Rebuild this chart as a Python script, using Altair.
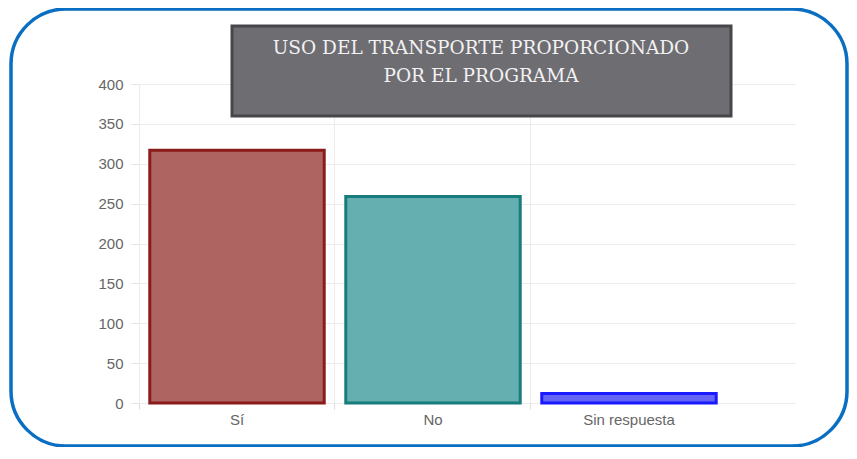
import altair as alt
import pandas as pd

categories = ["Sí", "No", "Sin respuesta"]
values = [317, 259, 12]
fill_colors = ["#ae6461", "#66afb0", "#6464f6"]
stroke_colors = ["#8b1a1a", "#167c7c", "#1a1aff"]
y_ticks = [0, 50, 100, 150, 200, 250, 300, 350, 400]
title_lines = ["USO DEL TRANSPORTE PROPORCIONADO", "POR EL PROGRAMA"]

df = pd.DataFrame({"cat": categories, "val": values})
one = pd.DataFrame({"a": [0]})

x_enc = alt.X(
    "cat:N",
    sort=categories,
    title=None,
    scale=alt.Scale(paddingInner=0, paddingOuter=0.1735, align=0),
    axis=alt.Axis(
        bandPosition=0, grid=True, gridColor="#ececec", domain=False,
        tickColor="#dcdcdc", tickSize=6, labelAngle=0, labelPadding=3,
        labelFont="Liberation Sans", labelFontSize=15, labelColor="#666666",
    ),
)
y_enc = alt.Y(
    "val:Q",
    title=None,
    scale=alt.Scale(domain=[0, 400], nice=False),
    axis=alt.Axis(
        values=y_ticks, grid=True, gridColor="#ececec", domain=False,
        tickColor="#e4e4e4", tickSize=8, labelPadding=8,
        labelFont="Liberation Sans", labelFontSize=15, labelColor="#666666",
    ),
)

bars = alt.Chart(df).mark_bar(width=alt.RelativeBandSize(0.89), strokeWidth=3).encode(
    x=x_enc,
    y=y_enc,
    fill=alt.Fill("cat:N", scale=alt.Scale(domain=categories, range=fill_colors), legend=None),
    stroke=alt.Stroke("cat:N", scale=alt.Scale(domain=categories, range=stroke_colors), legend=None),
)

box = alt.Chart(one).mark_rect(fill="#6e6d72", stroke="#47464b", strokeWidth=3).encode(
    x=alt.value(93), x2=alt.value(592), y=alt.value(-58), y2=alt.value(32)
)

title_text = alt.Chart(pd.DataFrame({"t": [title_lines]})).mark_text(
    font="DejaVu Serif", fontSize=18.5, color="#f2f2f2", align="center",
    baseline="top", lineHeight=28,
).encode(x=alt.value(342), y=alt.value(-45), text="t")

frame = alt.Chart(one).mark_rect(
    fillOpacity=0, stroke="#0a6fc2", strokeWidth=3.5, cornerRadius=55
).encode(x=alt.value(-128), x2=alt.value(708), y=alt.value(-75), y2=alt.value(362))

chart = alt.layer(bars, box, title_text, frame).properties(
    width=656,
    height=319,
    padding={"left": 131, "top": 76, "right": 54, "bottom": 44},
    autosize=alt.AutoSizeParams(type="none"),
).configure_view(stroke=None)

chart.save("out.html", embed_options={"renderer": "svg", "actions": False})
